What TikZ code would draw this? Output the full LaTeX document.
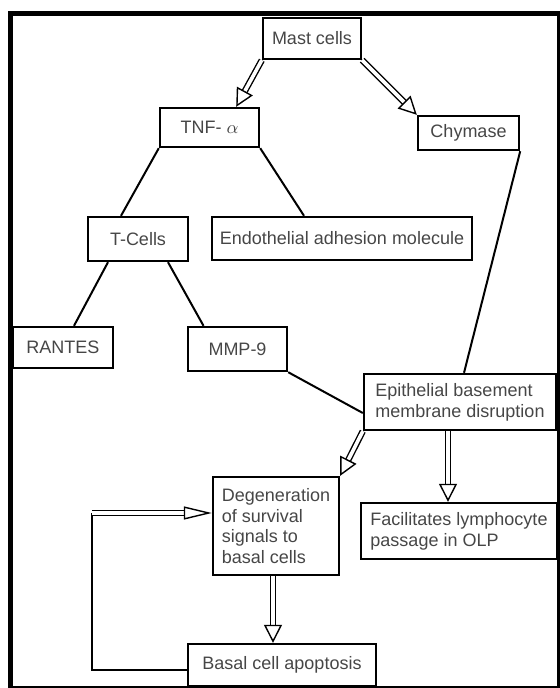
\documentclass[tikz,border=0pt]{standalone}
\usepackage{fontspec}
\setmainfont{Liberation Sans}
\usetikzlibrary{arrows.meta}
\definecolor{txtgray}{RGB}{70,70,70}

\begin{document}
\begin{tikzpicture}
[
    x=0.5pt, y=-0.5pt,
    box/.style={draw, line width=1.2pt, inner sep=0pt, text=txtgray,
        font=\fontsize{9}{10.4}\selectfont},
    link/.style={line width=1pt},
    dblarrow/.style={double, double distance=1.8pt, line width=0.7pt,
        -{Triangle[open, length=9pt, width=9pt, line width=0.7pt]}},
    longarrow/.style={dblarrow,
        -{Triangle[open, length=14pt, width=6.5pt, line width=0.7pt]}},
]
\useasboundingbox (0,0) rectangle (559,688);
\draw [line width=2.5pt] (10,13.5) rectangle (559.5,688.5);

\node [box, minimum width=49pt, minimum height=20.5pt] (mast) at (312,38.5) {Mast cells};
\node [box, minimum width=49.5pt, minimum height=19.5pt] (tnf) at (209.5,127.5) {TNF- $\alpha$};
\node [box, minimum width=50.5pt, minimum height=17pt] (chym) at (468.5,133) {Chymase};
\node [box, minimum width=50pt, minimum height=22pt] (tcell) at (138,239) {T-Cells};
\node [box, minimum width=130pt, minimum height=21.5pt] (endo) at (342,238.5) {Endothelial adhesion molecule};
\node [box, minimum width=50pt, minimum height=20.5pt] (rantes) at (63,347.5) {RANTES};
\node [box, minimum width=49.5pt, minimum height=22pt] (mmp) at (237.5,349) {MMP-9};
\node [box, minimum width=96pt, minimum height=28pt, align=left] (epi) at (460,402)
    {Epithelial basement\\membrane disruption};
\node [box, minimum width=63pt, minimum height=49pt, align=left] (degen) at (276,526)
    {Degeneration\\of survival\\signals to\\basal cells};
\node [box, minimum width=98pt, minimum height=28pt, align=left] (facil) at (459,531)
    {Facilitates lymphocyte\\passage in OLP};
\node [box, minimum width=94pt, minimum height=21pt] (basal) at (282,665) {Basal cell apoptosis};
\coordinate (loop) at (92,513);

\draw [dblarrow] (mast.south west) -- ([xshift=-12pt]tnf.north east);
\draw [dblarrow] (mast.south east) -- (chym.north west);
\draw [link] (tnf.south west) -- ([xshift=-8.5pt]tcell.north);
\draw [link] (tnf.south east) -- ([xshift=-19pt]endo.north);
\draw [link] (chym.south east) -- ([xshift=2pt]epi.north);
\draw [link] ([xshift=-15pt]tcell.south) -- ([xshift=5.5pt]rantes.north);
\draw [link] ([xshift=15pt]tcell.south) -- ([xshift=-17pt]mmp.north);
\draw [link] (mmp.south east) -- ([yshift=-5.5pt]epi.west);
\draw [dblarrow] (epi.south west) -- (degen.north east);
\draw [dblarrow] ([xshift=-6pt]epi.south) -- ([xshift=-6pt]epi.south |- facil.north);
\draw [dblarrow] ([xshift=-1.5pt]degen.south) -- ([xshift=-1.5pt]degen.south |- basal.north);
\draw [link] ([yshift=-2.5pt]basal.west) -| (loop);
\draw [longarrow] (loop) -- (loop -| degen.west);
\end{tikzpicture}
\end{document}
